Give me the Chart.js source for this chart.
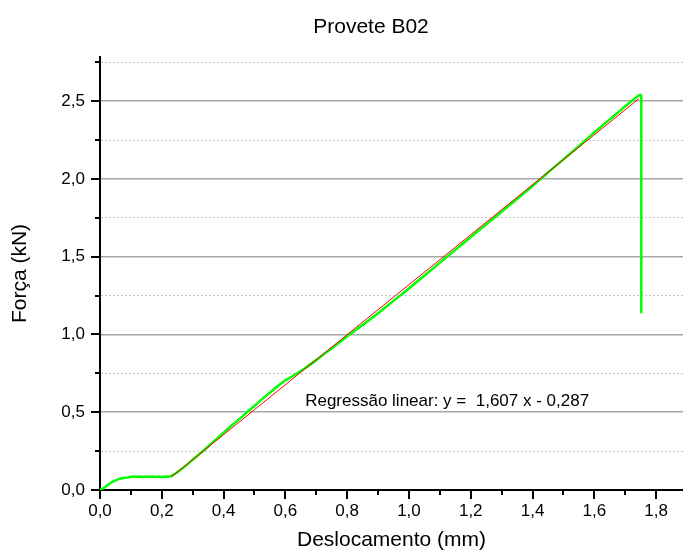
<!DOCTYPE html>
<html>
<head>
<meta charset="utf-8">
<title>Provete B02</title>
<script src="https://cdn.jsdelivr.net/npm/chart.js@4.4.1/dist/chart.umd.min.js"></script>
<style>
  html, body { margin: 0; padding: 0; background: #ffffff; }
  canvas { display: block; }
</style>
</head>
<body>
<canvas id="chart" width="683" height="558"></canvas>
<script>
// Ensaio de tração — provete B02: deslocamento (mm) vs força (kN)
const deslocamento = [
  0.000, 0.008, 0.016, 0.024, 0.032, 0.040, 0.050, 0.060, 0.070, 0.080,
  0.090, 0.100, 0.110, 0.120, 0.130, 0.140, 0.150, 0.160, 0.170, 0.180,
  0.190, 0.200, 0.210, 0.220, 0.228, 0.240, 0.260, 0.280, 0.300, 0.320,
  0.340, 0.360, 0.380, 0.400, 0.420, 0.440, 0.460, 0.480, 0.500, 0.520,
  0.540, 0.560, 0.580, 0.600, 0.620, 0.640, 0.660, 0.680, 0.700, 0.720,
  0.740, 0.760, 0.780, 0.800, 0.820, 0.840, 0.860, 0.880, 0.900, 0.920,
  0.940, 0.960, 0.980, 1.000, 1.020, 1.040, 1.060, 1.080, 1.100, 1.120,
  1.140, 1.160, 1.180, 1.200, 1.220, 1.240, 1.260, 1.280, 1.300, 1.320,
  1.340, 1.360, 1.380, 1.400, 1.420, 1.440, 1.460, 1.480, 1.500, 1.520,
  1.540, 1.560, 1.580, 1.600, 1.620, 1.640, 1.660, 1.680, 1.700, 1.720,
  1.735, 1.745, 1.750, 1.752, 1.752
];
const forca = [
  0.000, 0.008, 0.018, 0.030, 0.042, 0.052, 0.062, 0.070, 0.076, 0.079,
  0.081, 0.085, 0.086, 0.085, 0.087, 0.083, 0.086, 0.085, 0.087, 0.083,
  0.086, 0.084, 0.087, 0.086, 0.088, 0.100, 0.128, 0.160, 0.195, 0.228,
  0.262, 0.298, 0.333, 0.368, 0.404, 0.438, 0.472, 0.508, 0.541, 0.576,
  0.610, 0.643, 0.675, 0.705, 0.728, 0.752, 0.778, 0.806, 0.835, 0.866,
  0.896, 0.926, 0.957, 0.988, 1.017, 1.046, 1.076, 1.106, 1.137, 1.168,
  1.200, 1.232, 1.264, 1.296, 1.329, 1.362, 1.395, 1.428, 1.462, 1.495,
  1.528, 1.560, 1.593, 1.626, 1.659, 1.692, 1.724, 1.757, 1.789, 1.822,
  1.855, 1.888, 1.921, 1.955, 1.989, 2.024, 2.058, 2.092, 2.126, 2.160,
  2.194, 2.229, 2.264, 2.299, 2.333, 2.367, 2.400, 2.433, 2.467, 2.500,
  2.524, 2.538, 2.540, 2.530, 1.137
];

// Regressão linear (troço elástico): y = declive * x + ordenada
const declive = 1.607;
const ordenada = -0.287;
const regressaoInicio = 0.23;
const regressaoFim = 1.745;

// Eixos
const xMin = 0, xMax = 1.887, xPasso = 0.1, xPassoPrincipal = 0.2;
const yMin = 0, yMax = 2.784, yPasso = 0.25, yPassoPrincipal = 0.5;

const titulo = 'Provete B02';
const tituloX = 'Deslocamento (mm)';
const tituloY = 'Força (kN)';
const textoRegressao = 'Regressão linear: y =  1,607 x - 0,287';
const textoRegressaoPos = { x: 0.664, y: 0.537 };

const FONT = '"Liberation Sans", Arial, sans-serif';

const curva = deslocamento.map((x, i) => ({ x, y: forca[i] }));
const recta = [regressaoInicio, regressaoFim].map(x => ({ x, y: declive * x + ordenada }));

const isMultiple = (v, step) => Math.abs(v / step - Math.round(v / step)) < 1e-6;
const fmt = v => v.toFixed(1).replace('.', ',');

// Marcas de escala (principais e secundárias), título e etiqueta da regressão
const decoracoes = {
  id: 'decoracoes',
  afterDraw(chart) {
    const { ctx, scales: { x, y }, chartArea } = chart;
    ctx.save();
    ctx.strokeStyle = '#000000';
    ctx.lineWidth = 2;
    ctx.beginPath();
    x.ticks.forEach(t => {
      const px = Math.round(x.getPixelForValue(t.value));
      const len = isMultiple(t.value, xPassoPrincipal) ? 9 : 5;
      ctx.moveTo(px, chartArea.bottom);
      ctx.lineTo(px, chartArea.bottom + len);
    });
    y.ticks.forEach(t => {
      const py = Math.round(y.getPixelForValue(t.value));
      const len = isMultiple(t.value, yPassoPrincipal) ? 9 : 5;
      ctx.moveTo(chartArea.left, py);
      ctx.lineTo(chartArea.left - len, py);
    });
    ctx.stroke();

    ctx.fillStyle = '#000000';
    ctx.font = '21px ' + FONT;
    ctx.textAlign = 'center';
    ctx.textBaseline = 'alphabetic';
    ctx.fillText(titulo, 371, 33);

    ctx.font = '17px ' + FONT;
    ctx.textAlign = 'left';
    ctx.fillText(textoRegressao,
      x.getPixelForValue(textoRegressaoPos.x),
      y.getPixelForValue(textoRegressaoPos.y));
    ctx.restore();
  }
};

new Chart(document.getElementById('chart'), {
  type: 'line',
  data: {
    datasets: [
      {
        label: 'Regressão linear',
        data: recta,
        borderColor: '#ff0000',
        borderWidth: 1,
        pointRadius: 0,
        tension: 0,
        order: 0
      },
      {
        label: 'Provete B02',
        data: curva,
        borderColor: '#00ff00',
        borderWidth: 2.5,
        pointRadius: 0,
        tension: 0,
        order: 1
      }
    ]
  },
  options: {
    responsive: false,
    animation: false,
    events: [],
    layout: { padding: { top: 57, left: 0, right: 0, bottom: 0 } },
    plugins: {
      legend: { display: false },
      tooltip: { enabled: false },
      title: { display: false }
    },
    scales: {
      x: {
        type: 'linear',
        min: xMin,
        max: xMax,
        afterFit: s => { s.height = 68; },
        ticks: {
          stepSize: xPasso,
          includeBounds: false,
          autoSkip: false,
          maxRotation: 0,
          padding: 11,
          color: '#000000',
          font: { family: FONT, size: 17 },
          callback: v => isMultiple(v, xPassoPrincipal) ? fmt(v) : ''
        },
        grid: { display: false, drawTicks: false },
        border: { display: true, color: '#000000', width: 2 },
        title: {
          display: true,
          text: tituloX,
          color: '#000000',
          font: { family: FONT, size: 21 },
          padding: { top: 0, bottom: 5 }
        }
      },
      y: {
        type: 'linear',
        min: yMin,
        max: yMax,
        afterFit: s => { s.width = 100; },
        ticks: {
          stepSize: yPasso,
          includeBounds: false,
          autoSkip: false,
          padding: 15,
          color: '#000000',
          font: { family: FONT, size: 17 },
          callback: v => isMultiple(v, yPassoPrincipal) ? fmt(v) : ''
        },
        grid: {
          drawTicks: false,
          color: c => {
            if (!c.tick || c.tick.value === 0) return 'rgba(0,0,0,0)';
            return isMultiple(c.tick.value, yPassoPrincipal) ? '#a8a8a8' : '#c4c4c4';
          },
          lineWidth: c => (c.tick && isMultiple(c.tick.value, yPassoPrincipal)) ? 1.5 : 1
        },
        border: {
          display: true,
          color: '#000000',
          width: 2,
          dash: c => (c.tick && !isMultiple(c.tick.value, yPassoPrincipal)) ? [2, 2] : []
        },
        title: {
          display: true,
          text: tituloY,
          color: '#000000',
          font: { family: FONT, size: 21 },
          padding: { top: 8, bottom: 0 }
        }
      }
    }
  },
  plugins: [decoracoes]
});
</script>
</body>
</html>
